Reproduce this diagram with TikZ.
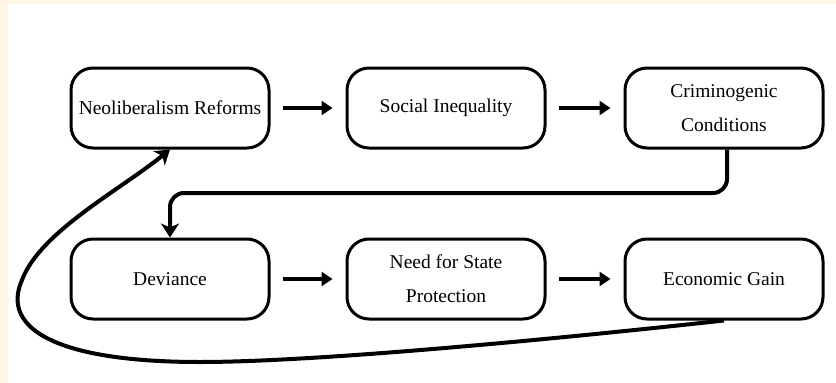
\documentclass[tikz,border=0pt]{standalone}
\usepackage{fontspec}
\setmainfont{Liberation Serif}
\usetikzlibrary{arrows.meta}
\definecolor{cream}{RGB}{254,245,228}
\begin{document}
\begin{tikzpicture}[x=1pt,y=-1pt,
  stagebox/.style={draw=black,line width=3pt,rounded corners=22pt,
    minimum width=198pt,minimum height=80pt,align=center,inner sep=2pt,
    font=\fontsize{19.5}{34}\selectfont},
  flow/.style={line width=4pt,-{Triangle[length=11pt,width=14pt]},
    shorten <=12pt,shorten >=13pt},
  loop/.style={line width=4pt,-{Stealth[length=14pt,width=18pt,inset=4pt]}}]
  % page background with a cream margin
  \fill[cream] (0,0) rectangle (836,383);
  \fill[white] (8,4) rectangle (836,383);
  \useasboundingbox (0,0) rectangle (836,383);

  % top row
  \node[stagebox] (neo)  at (170,108) {Neoliberalism Reforms};
  \node[stagebox] (ineq) at (446,108) {Social Inequality};
  \node[stagebox] (crim) at (724,108) {Criminogenic\\Conditions};
  % bottom row
  \node[stagebox] (dev)  at (170,279) {Deviance};
  \node[stagebox] (need) at (446,279) {Need for State\\Protection};
  \node[stagebox] (gain) at (724,279) {Economic Gain};

  % straight links within each row
  \draw[flow] (neo.east) -- (ineq.west);
  \draw[flow] (ineq.east) -- (crim.west);
  \draw[flow] (dev.east) -- (need.west);
  \draw[flow] (need.east) -- (gain.west);

  % elbow from the end of the top row to the start of the bottom row
  \coordinate (turn) at (727,193);
  \draw[loop,rounded corners=14pt] (crim.south -| turn) -- (turn) -| (dev.north);

  % feedback loop back to the first stage
  \draw[loop] (gain.south) .. controls (500,345) and (300,362) .. (200,362)
    .. controls (60,362) and (0,330) .. (22,280)
    .. controls (40,232) and (120,190) .. (neo.south);
\end{tikzpicture}
\end{document}
